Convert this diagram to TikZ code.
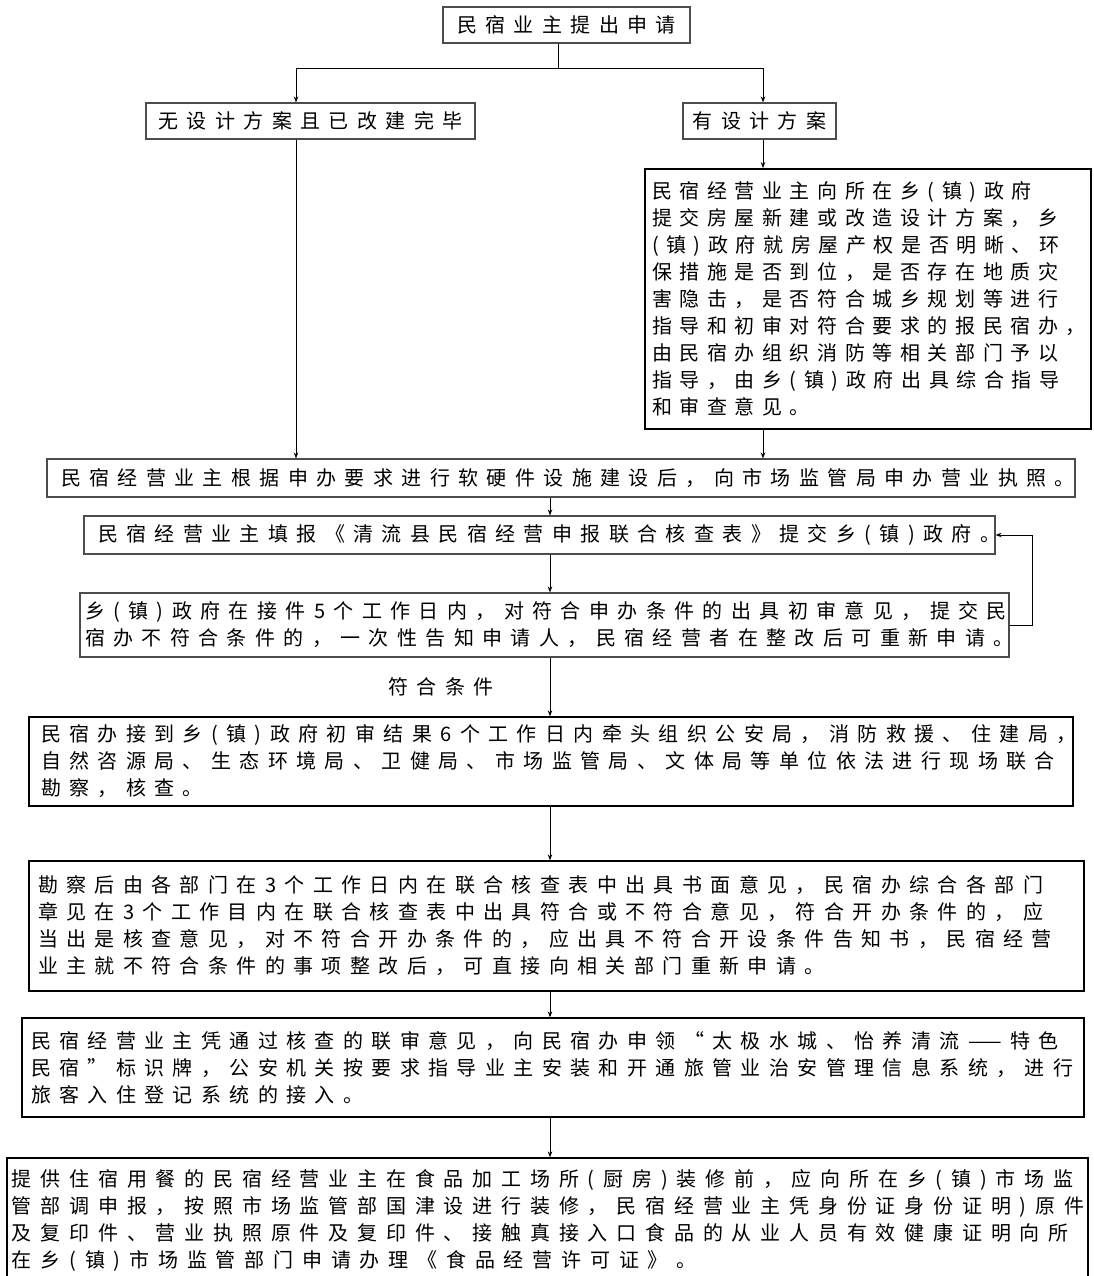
\documentclass[tikz,border=0pt]{standalone}
\usepackage{fontspec}
\newfontfamily\cjk[LetterSpace=42]{Noto Sans CJK SC}
\newfontfamily\cjkw[LetterSpace=44]{Noto Sans CJK SC}
\newfontfamily\cjkn[LetterSpace=38]{Noto Sans CJK SC}
\usetikzlibrary{arrows.meta}
\begin{document}
\begin{tikzpicture}[x=1pt,y=-1pt,
  txt/.style={font={\cjk\fontsize{20}{27}\selectfont}},
  box/.style={txt,draw=black!70,line width=1.1pt,inner ysep=0pt,align=left},
  dark/.style={draw=black,line width=1.3pt},
  thick box/.style={draw=black,line width=1.8pt},
  arr/.style={-{Stealth[length=6pt,width=4.5pt]},line width=0.9pt},
  ln/.style={line width=0.9pt}]
\useasboundingbox[fill=white] (0,0) rectangle (1093,1276);

\node[box,align=center,minimum width=247pt,minimum height=36pt,inner xsep=0pt] (b1) at (566.5,25) {民宿业主提出申请};
\node[box,align=center,minimum width=329pt,minimum height=36pt,inner xsep=0pt] (b2) at (310.5,121) {无设计方案且已改建完毕};
\node[box,align=center,minimum width=153pt,minimum height=36pt,inner xsep=0pt] (b3) at (759.5,121) {有设计方案};

\node[box,thick box,font={\cjkn\fontsize{20}{27}\selectfont},minimum width=446pt,minimum height=260pt,inner xsep=7pt,text width=432pt] (b4) at (868,299) {民宿经营业主向所在乡(镇)政府\\提交房屋新建或改造设计方案，乡\\(镇)政府就房屋产权是否明晰、环\\保措施是否到位，是否存在地质灾\\害隐击，是否符合城乡规划等进行\\指导和初审对符合要求的报民宿办，\\由民宿办组织消防等相关部门予以\\指导，由乡(镇)政府出具综合指导\\和审查意见。};

\node[box,minimum width=1028pt,minimum height=38pt,inner xsep=14pt,text width=1000pt] (b5) at (561,478) {民宿经营业主根据申办要求进行软硬件设施建设后，向市场监管局申办营业执照。};

\node[box,minimum width=911pt,minimum height=38pt,inner xsep=14pt,text width=883pt] (b6) at (539.5,535) {民宿经营业主填报《清流县民宿经营申报联合核查表》提交乡(镇)政府。};

\node[box,minimum width=929pt,minimum height=64pt,inner xsep=5pt,text width=919pt] (b7) at (544.5,625) {乡(镇)政府在接件5个工作日内，对符合申办条件的出具初审意见，提交民\\宿办不符合条件的，一次性告知申请人，民宿经营者在整改后可重新申请。};

\node[txt] (lab) at (441,687) {符合条件};

\node[box,dark,minimum width=1044pt,minimum height=89pt,inner xsep=12pt,text width=1020pt] (b8) at (551,761.5) {民宿办接到乡(镇)政府初审结果6个工作日内牵头组织公安局，消防救援、住建局，\\自然咨源局、生态环境局、卫健局、市场监管局、文体局等单位依法进行现场联合\\勘察，核查。};

\node[box,dark,minimum width=1055pt,minimum height=130pt,inner xsep=9pt,text width=1037pt] (b9) at (556.5,926) {勘察后由各部门在3个工作日内在联合核查表中出具书面意见，民宿办综合各部门\\章见在3个工作目内在联合核查表中出具符合或不符合意见，符合开办条件的，应\\当出是核查意见，对不符合开办条件的，应出具不符合开设条件告知书，民宿经营\\业主就不符合条件的事项整改后，可直接向相关部门重新申请。};

\node[box,dark,minimum width=1062pt,minimum height=99pt,inner xsep=9pt,text width=1044pt] (b10) at (553,1067.5) {民宿经营业主凭通过核查的联审意见，向民宿办申领“太极水城、怡养清流——特色\\民宿”标识牌，公安机关按要求指导业主安装和开通旅管业治安管理信息系统，进行\\旅客入住登记系统的接入。};

\node[box,dark,font={\cjkw\fontsize{20}{27}\selectfont},minimum width=1081pt,minimum height=124pt,inner xsep=5pt,text width=1071pt] (b11) at (547.5,1220) {提供住宿用餐的民宿经营业主在食品加工场所(厨房)装修前，应向所在乡(镇)市场监\\管部调申报，按照市场监管部国津设进行装修，民宿经营业主凭身份证身份证明)原件\\及复印件、营业执照原件及复印件、接触真接入口食品的从业人员有效健康证明向所\\在乡(镇)市场监管部门申请办理《食品经营许可证》。};

\coordinate (j1) at (558,68);
\coordinate (jl) at (296,68);
\coordinate (jr) at (763,68);
\coordinate (mc) at (550,0);
\coordinate (lp) at (1032,0);

\draw[ln] (j1 |- b1.south) -- (j1);
\draw[ln] (jl) -- (jr);
\draw[arr] (jl) -- (jl |- b2.north);
\draw[arr] (jr) -- (jr |- b3.north);
\draw[arr] (jr |- b3.south) -- (jr |- b4.north);
\draw[arr] (jl |- b2.south) -- (jl |- b5.north);
\draw[arr] (jr |- b4.south) -- (jr |- b5.north);
\draw[arr] (mc |- b5.south) -- (mc |- b6.north);
\draw[arr] (mc |- b6.south) -- (mc |- b7.north);
\draw[arr] (mc |- b7.south) -- (mc |- b8.north);
\draw[arr] (mc |- b8.south) -- (mc |- b9.north);
\draw[arr] (mc |- b9.south) -- (mc |- b10.north);
\draw[arr] (mc |- b10.south) -- (mc |- b11.north);
\draw[arr] (b7.east) -- (b7.east -| lp) -- (b6.east -| lp) -- (b6.east);
\end{tikzpicture}
\end{document}
